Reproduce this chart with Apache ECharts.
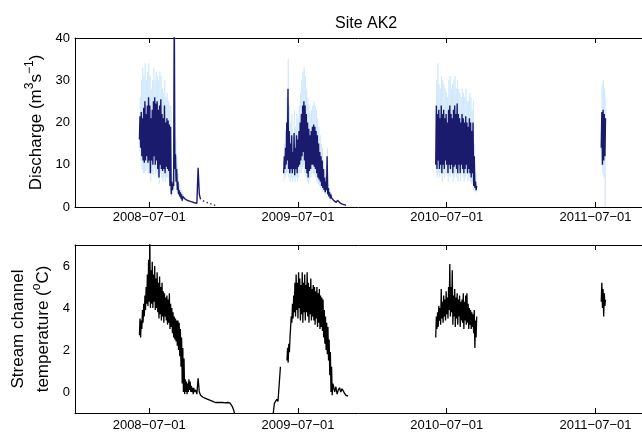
<!DOCTYPE html>
<html>
<head>
<meta charset="utf-8">
<script src="https://cdn.jsdelivr.net/npm/echarts@6/dist/echarts.min.js"></script>
<style>
  html, body { margin: 0; padding: 0; background: #fff; }
  #chart { width: 642px; height: 432px; }
</style>
</head>
<body>
<div id="chart"></div>
<script>
// tick dates shown on both time axes
const tickDates = ['2008-07-01', '2009-07-01', '2010-07-01', '2011-07-01'];

// discharge (m3/s), 3-day steps: lo/hi of the daily swing, u = uncertainty band
const q08Start = '2008-06-07';
const q08Lo = [16,14,12,11,10.5, 11,12,10.5,11,8, 11,10,12,10,11, 9,7,10,9,8.5, 9,8,9.5,9,8.5, 5,3,4,5,9, 6,4,3,2.5,2, 1.5];
const q08Hi = [21.5,22.5,21,23.5,25, 22,24,26,24,21, 23,25,26,24.5,25, 23,24,25.5,22,21, 24,20,21,20.5,19.5, 19,6,5.5,48,12.5, 9,6,4,3.5,3, 2.5];
const u08Lo = [13,11,9,8,8, 8.5,9,8,8,6, 8,7.5,9,8,8, 7,5.5,8,7,6, 7,6,7,7,6.5, 4,2.5,3,4,7, 5,3.5,2.5,2,1.5, 1.2];
const u08Hi = [26,30,33,31,34, 30,32,34,31,28, 30,33,30,32,31, 30,32,31,28,27, 30,26,27,25,24, 24,8,7,48,16, 12,8,5.5,4.5,4, 3];
const q08TailStart = '2008-09-23';
const q08Tail = [2.4,2.0,2.2,1.6,1.8,1.4,1.5,1.2,1.3,1.0,1.1,0.9,9.3,3.0,1.8,null,1.5,1.3,null,1.1,1.0,null,0.8,0.7,null,0.5,0.4];

const q09Start = '2009-05-27';
const q09Lo = [8,9,10,11,9, 8,9,8,9,7.5, 9,8,9.5,10,11, 12,13,11,9,8, 7,8.5,9,10,10, 9.5,9,8,7,6.5, 6,5,4.5,4,3.5, 4,3,2.5,2];
const q09Hi = [12,14,20,28,18, 15,17,13,17.5,14, 17,16,18,20,22, 24,25,24,22,20, 18.5,17,18,19,19.5, 19,18,17,15,13, 12,11,9,7,6, 12,4.5,3.5,3];
const u09Lo = [6,7,8,8,7, 6,7,6,7,6, 7,6,7,8,8, 9,10,8,7,6, 5.5,6.5,7,8,8, 7.5,7,6,5.5,5, 4.5,4,3.5,3,3, 3,2.5,2,1.5];
const u09Hi = [15,18,26,35,24, 20,22,17,23,19, 22,21,24,27,30, 32,33,31,28,26, 24,22,23,24,25, 24,23,21,19,17, 15,14,11,9,7.5, 14,5.5,4.5,3.5];
const q09TailStart = '2009-09-21';
const q09Tail = [2.2,1.8,1.5,1.3,1.1,1.6,1.9,1.0,0.8,0.7,0.6,0.5,0.4];

const q10Start = '2010-06-04';
const q10Lo = [10,9,11,9,10, 8,10,9,11,10, 8,10,9,10,8, 9.5,10,9,8,10, 8,10,9,8,9, 10,8,9,8,7, 8,5,4.5,4];
const q10Hi = [24,22,23,21,24, 22,23,21,22,20, 23,24,22,21,23, 24,22,24.5,22,21, 20,22,21,20,21.5, 20,19,21,20,18, 20,12,6,5];
const u10Lo = [8,7,8,7,8, 6,8,7,8,8, 6,8,7,8,6, 7,8,7,6,8, 6,8,7,6,7, 8,6,7,6,5.5, 6,4,3.5,3.5];
const u10Hi = [30,34,29,28,31, 30,29,28,27,26, 30,31,28,29,30, 31,28,30,28,27, 26,28,27,26,28, 25,25,27,26,23, 25,15,8,6];

const q11Start = '2011-07-15';
const q11Lo = [14,10,11,12];
const q11Hi = [22.5,23,22,21];
const u11Lo = [10,8,7,0];
const u11Hi = [29,30,28,26];

// stream channel temperature (deg C), 3-day steps
const t08Start = '2008-06-07';
const t08Lo = [2.7,2.6,3.0,3.3,3.6, 3.9,4.2,4.1,4.3,4.0, 4.2,4.0,4.3,3.9,4.0, 3.8,3.5,3.7,3.4,3.6, 3.3,3.6,3.4,3.2,3.3, 3.0,3.1,2.8,2.6,2.5, 2.4,2.2,2.0,1.7,1.2, 0.4,0.0,-0.1,0.0,-0.1, 0.0,0.1,0.0,0.0,-0.1];
const t08Hi = [3.5,3.4,3.9,4.2,4.6, 5.0,5.6,6.3,7.3,5.8, 6.2,5.6,6.0,5.4,5.7, 5.2,5.5,5.0,5.2,4.8, 4.7,4.5,4.6,4.4,4.7, 4.2,4.0,3.8,3.6,3.5, 3.4,3.4,3.3,3.0,2.6, 2.1,1.6,0.6,0.5,0.4, 0.6,0.5,0.3,0.2,0.2];
const t08TailStart = '2008-10-20';
const t08Tail = [0.0,0.1,-0.1,0.65,0.0,-0.15,-0.1,-0.25,-0.2,-0.3,-0.3,-0.35,-0.35,-0.4,-0.42,-0.45,-0.45,-0.5,-0.48,-0.5,-0.52,-0.5,-0.52,-0.5,-0.5,-0.52,-0.5,-0.5,-0.5,-0.52,-0.55,-0.7,-0.85,-1.05];

const t09PreStart = '2009-05-01';
const t09Pre = [-1.1,-0.55,-0.45,-0.35,-0.45,-0.4,1.2];
const t09Start = '2009-06-04';
const t09Lo = [1.5,1.4,1.9,2.6,3.3, 3.5,3.8,3.6,3.9,3.5, 4.0,3.4,3.7,3.3,3.8, 3.4,3.8,3.6,3.3,3.7, 3.4,3.6,3.4,3.2,3.5, 3.1,3.3,3.0,3.1,2.9, 2.6,2.3,2.0,1.8,1.5, 0.8,0.0,-0.15];
const t09Hi = [2.1,2.3,2.6,3.6,4.2, 4.6,5.2,5.6,5.2,5.7, 5.4,5.1,5.7,5.2,5.6, 5.1,5.7,5.2,5.0,5.4, 4.9,5.1,5.0,4.8,5.0, 4.7,4.9,4.6,4.5,4.4, 3.9,3.6,3.3,3.1,2.5, 1.9,1.2,0.4];
const t09TailStart = '2009-09-26';
const t09Tail = [0.3,0.0,0.25,-0.1,0.1,0.2,0.0,0.15,0.05,-0.05,-0.15,-0.2,-0.2];

const t10Start = '2010-06-04';
const t10Lo = [2.6,3.0,3.1,3.4,3.2, 3.5,3.3,3.6,3.4,3.7, 3.5,3.9,3.6,3.8,3.2, 3.6,3.1,3.5,3.2,3.6, 3.1,3.4,3.3,3.0,3.4, 3.2,3.3,3.0,3.2,3.0, 3.1,2.8,2.1,2.6];
const t10Hi = [3.6,3.8,4.1,4.0,4.9, 4.3,4.6,4.4,4.8,4.5, 5.0,6.1,5.0,5.8,4.6, 4.9,4.5,4.7,4.4,4.6, 4.3,4.4,4.7,4.3,4.6, 4.7,4.2,4.0,3.9,3.8, 3.7,3.9,3.4,3.6];

const t11Start = '2011-07-15';
const t11Lo = [4.3,4.0,3.6,4.1];
const t11Hi = [5.2,4.9,4.7,4.4];

const DAY = 86400000;
const ms = s => Date.parse(s + 'T00:00:00Z');

// lo/hi pairs -> a line that swings between them
function zig(start, lo, hi, off) {
  const t0 = ms(start);
  const out = [];
  lo.forEach((v, i) => {
    out.push([t0 + (i * 3 + off) * DAY, v]);
    out.push([t0 + (i * 3 + off + 1.5) * DAY, hi[i]]);
  });
  return out;
}
function run(start, vals) {
  const t0 = ms(start);
  return vals.map((v, i) => [t0 + i * 3 * DAY, v]);
}
// join segments with a break between them
function gaps(...parts) {
  const out = [];
  parts.forEach((p, k) => {
    if (k) out.push([p[0][0] - DAY, null]);
    out.push(...p);
  });
  return out;
}

const qDark = gaps(
  zig(q08Start, q08Lo, q08Hi, 0).concat(run(q08TailStart, q08Tail)),
  zig(q09Start, q09Lo, q09Hi, 0).concat(run(q09TailStart, q09Tail)),
  zig(q10Start, q10Lo, q10Hi, 0),
  zig(q11Start, q11Lo, q11Hi, 0)
);
const qBand = gaps(
  zig(q08Start, u08Lo, u08Hi, 0.75),
  zig(q09Start, u09Lo, u09Hi, 0.75),
  zig(q10Start, u10Lo, u10Hi, 0.75),
  zig(q11Start, u11Lo, u11Hi, 0.75)
);
const temp = gaps(
  zig(t08Start, t08Lo, t08Hi, 0).concat(run(t08TailStart, t08Tail)),
  run(t09PreStart, t09Pre),
  zig(t09Start, t09Lo, t09Hi, 0).concat(run(t09TailStart, t09Tail)),
  zig(t10Start, t10Lo, t10Hi, 0),
  zig(t11Start, t11Lo, t11Hi, 0)
);

const FONT = '"Liberation Sans", Arial, Helvetica, sans-serif';
const tickVals = tickDates.map(ms);
const xMin = ms('2008-01-01');
const xMax = ms('2011-10-23');

function xAxisFor(grid, pos) {
  const bottom = pos === 'bottom';
  return {
    type: 'value', gridIndex: grid, position: pos, min: xMin, max: xMax,
    axisLine: { show: true, onZero: false, lineStyle: { color: '#000', width: 1 } },
    axisTick: { show: true, inside: true, length: 5, customValues: tickVals, lineStyle: { color: '#000' } },
    axisLabel: {
      show: bottom, customValues: tickVals, fontSize: 13, color: '#000', fontFamily: FONT,
      margin: grid === 0 ? 4 : 6,
      formatter: v => new Date(v).toISOString().slice(0, 10).replace(/-/g, '\u2212')
    },
    splitLine: { show: false }
  };
}

const rich = {
  n: { fontSize: 17, fontFamily: FONT, color: '#000', lineHeight: 25 },
  s: { fontSize: 12, fontFamily: FONT, color: '#000', verticalAlign: 'top', lineHeight: 13 }
};

const chart = echarts.init(document.getElementById('chart'));
chart.setOption({
  animation: false,
  textStyle: { fontFamily: FONT },
  title: {
    text: 'Site AK2', left: 330, top: 11,
    textStyle: { fontSize: 16, fontWeight: 'normal', color: '#000', fontFamily: FONT }
  },
  grid: [
    { left: 75, right: -6, top: 38, height: 169 },
    { left: 75, right: -6, top: 245, height: 168 }
  ],
  xAxis: [xAxisFor(0, 'bottom'), xAxisFor(0, 'top'), xAxisFor(1, 'bottom'), xAxisFor(1, 'top')],
  yAxis: [
    {
      type: 'value', gridIndex: 0, min: 0, max: 40, interval: 10,
      axisLine: { show: true, onZero: false, lineStyle: { color: '#000' } },
      axisTick: { show: false },
      axisLabel: { fontSize: 13, color: '#000', margin: 5 },
      splitLine: { show: false },
      name: '{n|Discharge (m}{s|3}{n|s}{s|\u22121}{n|)}',
      nameLocation: 'middle', nameRotate: 90, nameGap: 25,
      nameTextStyle: { rich: rich }
    },
    {
      type: 'value', gridIndex: 1, min: -1, max: 7, interval: 1,
      axisLine: { show: true, onZero: false, lineStyle: { color: '#000' } },
      axisTick: { show: false },
      axisLabel: { fontSize: 13, color: '#000', margin: 5, customValues: [0, 2, 4, 6] },
      splitLine: { show: false },
      name: '{n|Stream channel}\n{n|temperature (}{s|o}{n|C)}',
      nameLocation: 'middle', nameRotate: 90, nameGap: 17,
      nameTextStyle: { rich: rich }
    }
  ],
  series: [
    {
      type: 'line', xAxisIndex: 0, yAxisIndex: 0, data: qBand, showSymbol: false, silent: true,
      lineStyle: { color: '#cbe6fb', width: 1, opacity: 0.7 }
    },
    {
      type: 'line', xAxisIndex: 0, yAxisIndex: 0, data: qDark, showSymbol: false, silent: true,
      lineStyle: { color: '#1b1b6e', width: 1.4 }
    },
    {
      type: 'line', xAxisIndex: 2, yAxisIndex: 1, data: temp, showSymbol: false, silent: true,
      lineStyle: { color: '#000', width: 1.3 }
    }
  ]
});
</script>
</body>
</html>
